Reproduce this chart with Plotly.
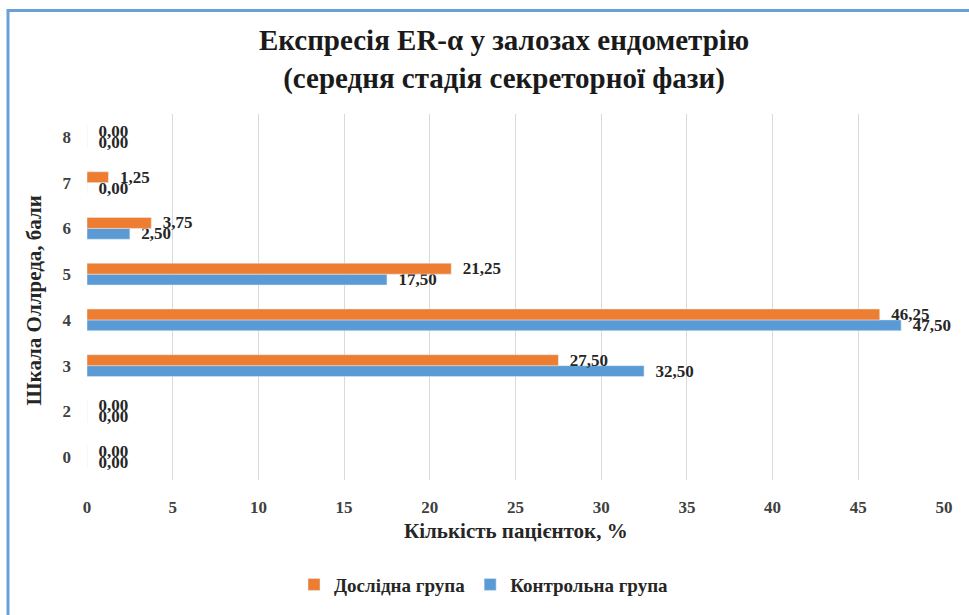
import plotly.graph_objects as go

# Allred score categories (bottom to top) and share of patients, %
scores = ["0", "2", "3", "4", "5", "6", "7", "8"]
study_group = [0.00, 0.00, 27.50, 46.25, 21.25, 3.75, 1.25, 0.00]
control_group = [0.00, 0.00, 32.50, 47.50, 17.50, 2.50, 0.00, 0.00]

study_name = "Дослідна група"
control_name = "Контрольна група"
x_ticks = [0, 5, 10, 15, 20, 25, 30, 35, 40, 45, 50]

ORANGE = "#ED7D31"
BLUE = "#5B9BD5"
SERIF = "Liberation Serif"
TEXT = "#262626"
PAD = "\u00a0\u00a0"  # small gap between bar end and its value label


def fmt(v):
    return PAD + f"{v:.2f}".replace(".", ",")


W, H = 969, 615
L, R, T, B = 87, 25, 114, 130
pw, ph = W - L - R, H - T - B


def px_x(p):
    return (p - L) / pw


def px_y(p):
    return (H - B - p) / ph


label_font = dict(family=SERIF, size=17, color=TEXT, weight="bold")

fig = go.Figure()
# blue first so the orange series sits above it within each group
fig.add_trace(go.Bar(
    y=scores, x=control_group, orientation="h", name=control_name,
    marker_color=BLUE, text=[fmt(v) for v in control_group],
    textposition="outside", constraintext="none", cliponaxis=False,
    textfont=label_font,
))
fig.add_trace(go.Bar(
    y=scores, x=study_group, orientation="h", name=study_name,
    marker_color=ORANGE, text=[fmt(v) for v in study_group],
    textposition="outside", constraintext="none", cliponaxis=False,
    textfont=label_font,
))

fig.update_layout(
    width=W, height=H,
    margin=dict(l=L, r=R, t=T, b=B),
    paper_bgcolor="white", plot_bgcolor="white",
    barmode="group", bargap=0.525, bargroupgap=0,
    font=dict(family=SERIF, color=TEXT),
    title=dict(
        text="Експресія ER-α у залозах ендометрію<br>(середня стадія секреторної фази)",
        x=px_x(504), xref="paper", xanchor="center",
        y=1 - 50 / H, yref="container", yanchor="middle",
        font=dict(family=SERIF, size=29, color="#1a1a1a", weight="bold"),
    ),
    xaxis=dict(
        range=[0, 50], tickvals=x_ticks, showgrid=True, gridcolor="#D9D9D9",
        gridwidth=1, zeroline=False, showline=False, ticks="",
        ticklabelstandoff=15,
        tickfont=dict(family=SERIF, size=17, color="#404040", weight="bold"),
    ),
    yaxis=dict(
        type="category", categoryorder="array", categoryarray=scores,
        showgrid=False, zeroline=False, showline=False, ticks="",
        ticklabelstandoff=15,
        tickfont=dict(family=SERIF, size=17, color="#404040", weight="bold"),
    ),
    legend=dict(
        orientation="h", traceorder="reversed",
        x=px_x(484), xanchor="center", y=px_y(591), yanchor="middle",
        font=dict(family=SERIF, size=19, color=TEXT, weight="bold"),
        itemwidth=30,
    ),
    showlegend=True,
    annotations=[
        dict(text="Кількість пацієнток, %", xref="paper", yref="paper",
             x=0.5, y=px_y(537), xanchor="center", yanchor="middle",
             showarrow=False,
             font=dict(family=SERIF, size=21, color=TEXT, weight="bold")),
        dict(text="Шкала Оллреда, бали", xref="paper", yref="paper",
             x=px_x(34), y=px_y(303), xanchor="center", yanchor="middle",
             textangle=-90, showarrow=False,
             font=dict(family=SERIF, size=21, color=TEXT, weight="bold")),
    ],
    shapes=[
        dict(type="rect", xref="paper", yref="paper",
             x0=px_x(8), x1=px_x(1010), y0=px_y(660), y1=px_y(9),
             line=dict(color="#6A9FD8", width=3), fillcolor="rgba(0,0,0,0)",
             layer="above"),
    ],
)

fig.write_html("out.html")
